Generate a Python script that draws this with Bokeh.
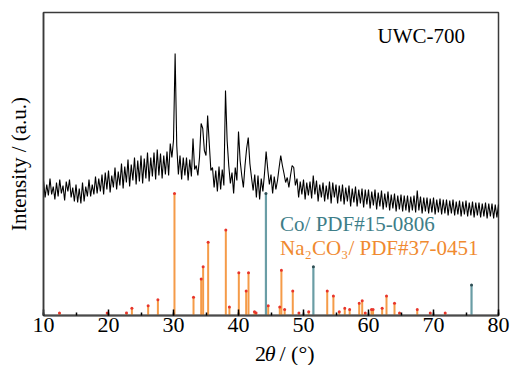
import numpy as np
from bokeh.plotting import figure
from bokeh.layouts import column
from bokeh.models import Range1d, SingleIntervalTicker, FixedTicker, Label
from bokeh.embed import file_html
from bokeh.resources import INLINE

# XRD pattern of UWC-700, every 0.25 deg (2theta 10..80)
two_theta_start = 10.0
two_theta_step = 0.25
intensity = [
    135, 118, 131, 120, 137, 121, 129, 116, 133, 119, 136, 122, 130, 115, 134, 124,
    136, 118, 128, 114, 131, 113, 127, 112, 133, 114, 129, 119, 136, 119, 131, 121,
    139, 122, 137, 124, 141, 121, 143, 126, 145, 123, 140, 128, 148, 126, 144, 130,
    152, 127, 149, 133, 156, 129, 151, 135, 158, 131, 155, 134, 160, 132, 157, 137,
    163, 134, 158, 139, 163, 136, 166, 140, 162, 137, 160, 141, 164, 140, 172, 158,
    175, 262, 170, 141, 160, 136, 158, 140, 158, 135, 156, 139, 177, 146, 150, 140,
    158, 192, 187, 165, 160, 200, 172, 145, 148, 128, 145, 124, 149, 126, 146, 130,
    225, 175, 150, 132, 143, 122, 148, 135, 184, 155, 140, 128, 150, 167, 178, 152,
    138, 125, 141, 118, 140, 116, 137, 124, 142, 164, 146, 131, 141, 122, 139, 126,
    135, 148, 160, 150, 142, 133, 138, 128, 140, 150, 148, 130, 137, 118, 134, 121,
    136, 116, 133, 120, 134, 117, 140, 121, 135, 114, 131, 118, 133, 114, 130, 116,
    134, 112, 133, 118, 131, 112, 130, 114, 131, 111, 128, 114, 130, 109, 127, 113,
    129, 109, 126, 112, 127, 108, 126, 111, 126, 107, 124, 110, 126, 106, 123, 109,
    125, 106, 122, 108, 124, 105, 121, 107, 122, 104, 120, 106, 121, 104, 120, 105,
    120, 103, 119, 105, 120, 103, 125, 105, 119, 102, 118, 104, 118, 102, 117, 103,
    118, 101, 116, 103, 117, 101, 116, 102, 116, 100, 115, 102, 116, 100, 114, 101,
    115, 99, 114, 101, 115, 99, 113, 100, 114, 98, 113, 100, 113, 98, 112, 99,
    113, 97, 112, 99, 112, 97, 111, 98, 111,
]

# Na2CO3 reference card PDF#37-0451 (2theta, relative intensity %)
na_pos = [12.46, 19.8, 22.77, 23.6, 26.1, 27.6, 30.15, 33.08, 34.26, 34.56, 35.33,
          38.05, 38.6, 40.05, 41.18, 41.54, 42.46, 42.7, 44.57, 46.35, 46.6, 47.1,
          48.35, 49.3, 50.8, 53.65, 54.6, 55.5, 56.35, 57.1, 58.57, 59.03, 59.5,
          60.46, 60.7, 62.1, 62.77, 64.0, 64.77, 67.5, 69.5, 71.8]
na_rel = [2, 2, 2, 6, 8, 13, 100, 15, 30, 40, 60,
          70, 7, 35, 20, 35, 3, 2, 8, 7, 37, 5,
          20, 2, 3, 20, 16, 3, 6, 5, 10, 12, 2,
          5, 5, 6, 16, 10, 2, 5, 2, 2]

# Co reference card PDF#15-0806
co_pos = [44.22, 51.52, 75.85]
co_rel = [100, 40, 25]

x_min, x_max = 10, 80
y_min, y_max = 0, 303
x_tick_interval = 10

stick_scale = 1.22  # intensity units per %
serif = "Liberation Serif"

x = two_theta_start + two_theta_step * np.arange(len(intensity))

p = figure(width=512, height=343, x_range=Range1d(x_min, x_max), y_range=Range1d(y_min, y_max),
           output_backend="svg", toolbar_location=None,
           min_border_left=43, min_border_right=14, min_border_top=12, min_border_bottom=28)

p.xgrid.visible = False
p.ygrid.visible = False
p.outline_line_color = "#3a3a3a"
p.outline_line_width = 1.5
p.background_fill_color = "white"
p.border_fill_color = "white"

# x axis: inward ticks
xa = p.xaxis[0]
xa.ticker = SingleIntervalTicker(interval=x_tick_interval, num_minor_ticks=2)
xa.major_tick_in = 6
xa.major_tick_out = 0
xa.minor_tick_in = 3
xa.minor_tick_out = 0
xa.major_tick_line_color = "black"
xa.minor_tick_line_color = "black"
xa.major_tick_line_width = 1.5
xa.minor_tick_line_width = 1.5
xa.axis_line_color = "#4a4a4a"
xa.axis_line_width = 2
xa.major_label_text_font = serif
xa.major_label_text_font_size = "22px"
xa.major_label_text_color = "black"
xa.major_label_standoff = 2

# y axis: title only
ya = p.yaxis[0]
ya.ticker = FixedTicker(ticks=[])
ya.major_tick_line_color = None
ya.minor_tick_line_color = None
ya.axis_line_color = "#3a3a3a"
ya.axis_line_width = 1.5
ya.axis_label = "Intensity / (a.u.)"
ya.axis_label_text_font = serif
ya.axis_label_text_font_size = "21px"
ya.axis_label_text_font_style = "normal"
ya.axis_label_text_color = "black"
ya.axis_label_standoff = 13

# measured curve
p.line(x, intensity, line_color="black", line_width=1.1)

# Na2CO3 sticks
na_top = [r * stick_scale for r in na_rel]
p.segment(x0=na_pos, y0=[0] * len(na_pos), x1=na_pos, y1=na_top,
          line_color="#F59B48", line_width=2)
p.scatter(na_pos, na_top, size=3, color="#E8352B", line_color=None)

# Co sticks
co_top = [r * stick_scale for r in co_rel]
p.segment(x0=co_pos, y0=[0] * len(co_pos), x1=co_pos, y1=co_top,
          line_color="#6A9DA5", line_width=2.2)
p.scatter(co_pos, co_top, size=3, color="#2F4F55", line_color=None)


def add_label(fig, xv, yv, text, size, color="black", style="normal"):
    fig.add_layout(Label(x=xv, y=yv, text=text, text_font=serif, text_font_size=size,
                         text_color=color, text_font_style=style,
                         text_align="left", text_baseline="alphabetic"))


add_label(p, 61.4, 280, "UWC-700", "21px")
add_label(p, 46.4, 92, "Co/ PDF#15-0806", "21px", color="#3E7E88")
add_label(p, 46.4, 68, "Na\u2082CO\u2083/ PDF#37-0451", "21px", color="#F08A30")

# strip under the plot holding the x-axis title (pixel units)
q = figure(width=512, height=22, x_range=Range1d(0, 512), y_range=Range1d(0, 22),
           output_backend="svg", toolbar_location=None, min_border=0)
q.xaxis.visible = False
q.yaxis.visible = False
q.xgrid.visible = False
q.ygrid.visible = False
q.outline_line_color = None
q.background_fill_color = "white"
q.border_fill_color = "white"

add_label(q, 238, 12, "2", "22px")
add_label(q, 249, 12, "\u03b8", "22px", style="italic")
add_label(q, 265.5, 12, "/ (\u00b0)", "22px")

layout = column(p, q, spacing=0)
open("out.html", "w").write(file_html(layout, INLINE))
